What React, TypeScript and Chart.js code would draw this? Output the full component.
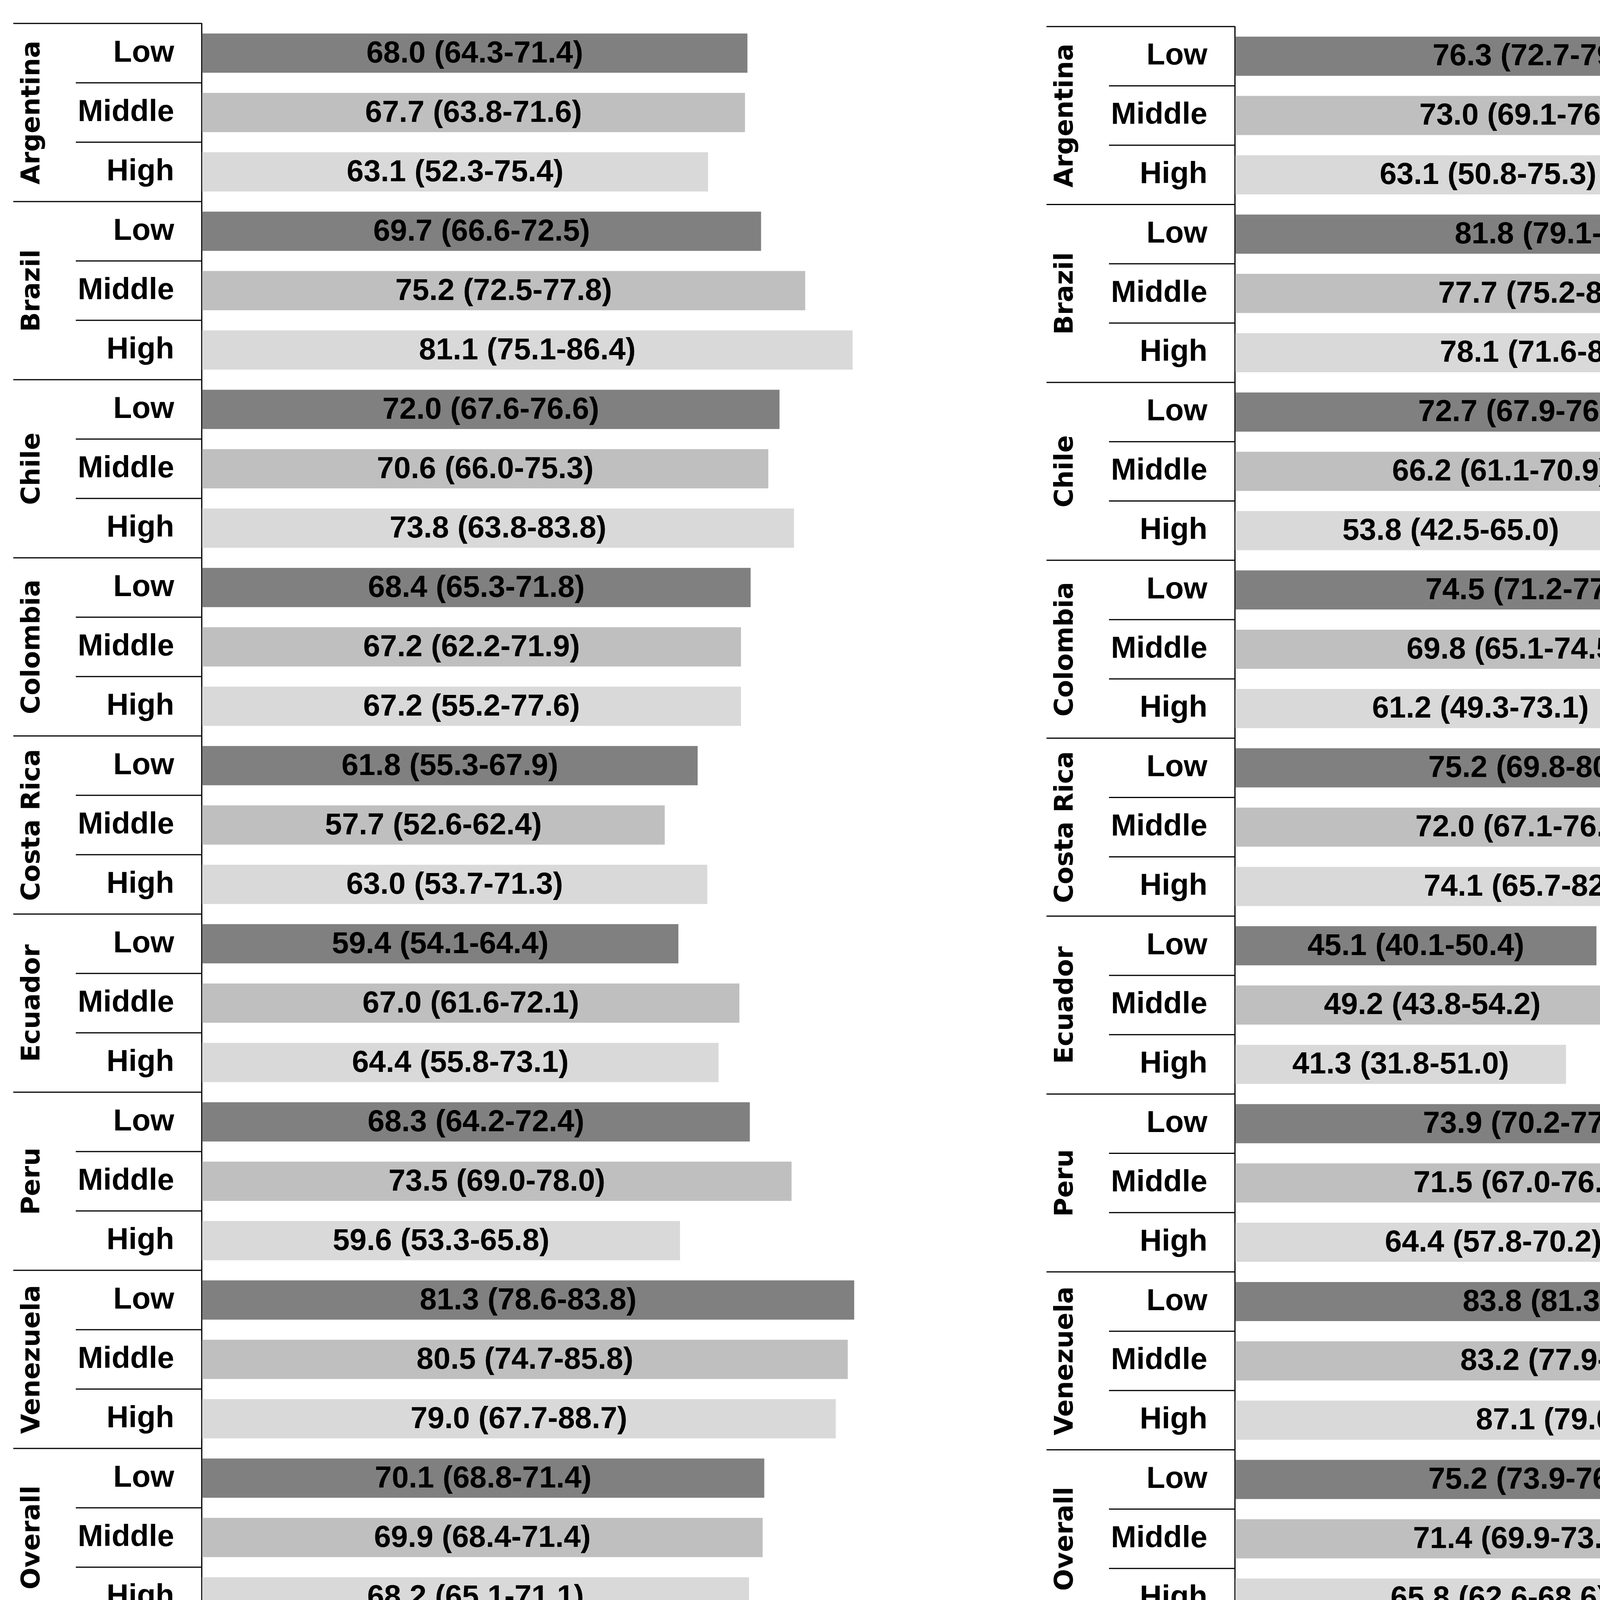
import { useEffect, useRef } from 'react';
import { Chart, registerables } from 'chart.js';

Chart.register(...registerables);

const countries = ['Argentina', 'Brazil', 'Chile', 'Colombia', 'Costa Rica', 'Ecuador', 'Peru', 'Venezuela', 'Overall'];
const levels = ['Low', 'Middle', 'High'];
const levelColors = ['#808080', '#bfbfbf', '#d9d9d9'];
const xMin = 0;
const xMax = 100;
const xStep = 10;

// transport
const transportValues = [68.0, 67.7, 63.1, 69.7, 75.2, 81.1, 72.0, 70.6, 73.8, 68.4, 67.2, 67.2, 61.8, 57.7, 63.0, 59.4, 67.0, 64.4, 68.3, 73.5, 59.6, 81.3, 80.5, 79.0, 70.1, 69.9, 68.2];
const transportLower = [64.3, 63.8, 52.3, 66.6, 72.5, 75.1, 67.6, 66.0, 63.8, 65.3, 62.2, 55.2, 55.3, 52.6, 53.7, 54.1, 61.6, 55.8, 64.2, 69.0, 53.3, 78.6, 74.7, 67.7, 68.8, 68.4, 65.1];
const transportUpper = [71.4, 71.6, 75.4, 72.5, 77.8, 86.4, 76.6, 75.3, 83.8, 71.8, 71.9, 77.6, 67.9, 62.4, 71.3, 64.4, 72.1, 73.1, 72.4, 78.0, 65.8, 83.8, 85.8, 88.7, 71.4, 71.4, 71.1];
const transportTitle = ['Prevalence (%) of insufficient physical activity of transport', '(Not meeting recommendations)'];

// leisure
const leisureValues = [76.3, 73.0, 63.1, 81.8, 77.7, 78.1, 72.7, 66.2, 53.8, 74.5, 69.8, 61.2, 75.2, 72.0, 74.1, 45.1, 49.2, 41.3, 73.9, 71.5, 64.4, 83.8, 83.2, 87.1, 75.2, 71.4, 65.8];
const leisureLower = [72.7, 69.1, 50.8, 79.1, 75.2, 71.6, 67.9, 61.1, 42.5, 71.2, 65.1, 49.3, 69.8, 67.1, 65.7, 40.1, 43.8, 31.8, 70.2, 67.0, 57.8, 81.3, 77.9, 79.0, 73.9, 69.9, 62.6];
const leisureUpper = [79.5, 76.6, 75.3, 84.2, 80.1, 84.6, 76.9, 70.9, 65.0, 77.3, 74.5, 73.1, 80.5, 76.2, 82.4, 50.4, 54.2, 51.0, 77.9, 76.1, 70.2, 86.1, 88.4, 95.2, 76.4, 73.0, 68.6];
const leisureTitle = ['Prevalence (%) of insufficient physical activity of leisure', '(Not meeting recommendations)'];

const FAMILY = '"Liberation Sans", Arial, sans-serif';
const COUNTRY_FAMILY = '"DejaVu Sans", Verdana, sans-serif';

function Panel({ width, height, values, lower, upper, title, padTop, padRight, xHeight, titlePad }) {
  const chartRef = useRef(null);

  useEffect(() => {
    const labels = countries.flatMap(() => levels);
    const colors = labels.map((_, i) => levelColors[i % 3]);

    const groupPlugin = {
      id: 'groups',
      afterDatasetsDraw(chart) {
        const { ctx } = chart;
        const meta = chart.getDatasetMeta(0);
        ctx.save();
        ctx.font = `bold 78px ${FAMILY}`;
        ctx.fillStyle = '#000';
        ctx.textAlign = 'center';
        ctx.textBaseline = 'middle';
        meta.data.forEach((el: any, i) => {
          const txt = `${values[i].toFixed(1)} (${lower[i].toFixed(1)}-${upper[i].toFixed(1)})`;
          ctx.fillText(txt, (el.base + el.x) / 2, el.y + 2);
        });
        ctx.restore();
      },
      afterDraw(chart) {
        const { ctx, chartArea } = chart;
        const y = chart.scales.y;
        const n = labels.length;
        ctx.save();
        ctx.strokeStyle = '#000';
        // row / country separators on the label side
        for (let i = 0; i <= n; i++) {
          let yy;
          if (i === 0) yy = chartArea.top;
          else if (i === n) yy = chartArea.bottom;
          else yy = (y.getPixelForValue(i - 1) + y.getPixelForValue(i)) / 2;
          const x0 = i % 3 === 0 ? 34 : 194;
          ctx.lineWidth = i === n ? 4 : 3;
          ctx.beginPath();
          ctx.moveTo(x0, yy);
          ctx.lineTo(chartArea.left, yy);
          ctx.stroke();
        }
        ctx.font = `bold 66px ${COUNTRY_FAMILY}`;
        ctx.fillStyle = '#000';
        ctx.textAlign = 'center';
        ctx.textBaseline = 'middle';
        countries.forEach((c, g) => {
          const yc = y.getPixelForValue(g * 3 + 1);
          ctx.save();
          ctx.translate(84, yc);
          ctx.rotate(-Math.PI / 2);
          ctx.fillText(c, 0, 0);
          ctx.restore();
        });
        ctx.restore();
      },
    };

    const ctx = chartRef.current.getContext('2d');
    const chart = new Chart(ctx, {
      type: 'bar',
      data: {
        labels,
        datasets: [
          {
            data: values,
            backgroundColor: colors,
            borderWidth: 0,
            barPercentage: 0.66,
            categoryPercentage: 1,
          },
        ],
      },
      options: {
        indexAxis: 'y',
        animation: false,
        responsive: false,
        layout: { padding: { top: padTop, right: padRight, left: 0, bottom: 0 } },
        plugins: { legend: { display: false }, tooltip: { enabled: false } },
        scales: {
          x: {
            min: xMin,
            max: xMax,
            ticks: {
              stepSize: xStep,
              color: '#000',
              font: { family: FAMILY, size: 78, weight: 'bold', lineHeight: '144px' },
              padding: 0,
              maxRotation: 0,
            },
            grid: { drawOnChartArea: false, drawTicks: true, tickLength: 24, color: '#000', lineWidth: 3 },
            border: { color: '#000', width: 4 },
            title: {
              display: true,
              text: title,
              color: '#000',
              font: { family: FAMILY, size: 78, weight: 'bold', lineHeight: 1.28 },
              padding: { top: 0, bottom: titlePad },
            },
            afterFit: (s) => { s.height = xHeight; },
          },
          y: {
            grid: { display: false, drawTicks: true, tickLength: 70 },
            border: { display: true, color: '#000', width: 3 },
            ticks: { color: '#000', font: { family: FAMILY, size: 78, weight: 'bold' }, padding: 0, autoSkip: false },
            afterFit: (s) => { s.width = 516; },
          },
        },
      },
      plugins: [groupPlugin],
    });

    return () => {
      chart.destroy();
    };
  }, []);

  return <canvas ref={chartRef} width={width} height={height} style={{ display: 'block', width, height }} />;
}

export default function App() {
  return (
    <div style={{ position: 'absolute', left: 0, top: 0, width: 5291, height: 4536, display: 'flex', background: '#fff' }}>
      <Panel width={2645} height={4536} values={transportValues} lower={transportLower} upper={transportUpper}
        title={transportTitle} padTop={60} padRight={74} xHeight={372} titlePad={-9} />
      <Panel width={2646} height={4536} values={leisureValues} lower={leisureLower} upper={leisureUpper}
        title={leisureTitle} padTop={68} padRight={77} xHeight={369} titlePad={2} />
    </div>
  );
}
